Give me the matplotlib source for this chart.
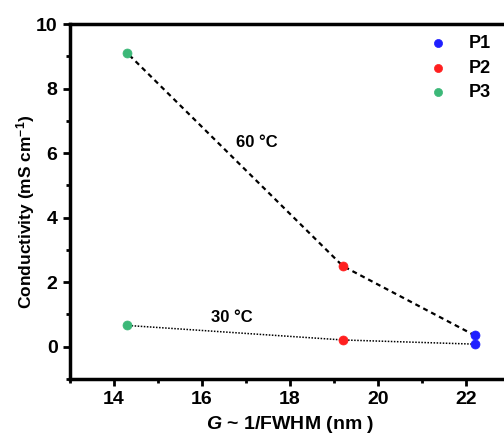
import matplotlib
matplotlib.use("Agg")
import matplotlib.pyplot as plt
from matplotlib.ticker import MultipleLocator

# G ~ 1/FWHM (nm) for each sample, and conductivity (mS/cm) at two temperatures
samples = ["P1", "P2", "P3"]
g_values = [22.2, 19.2, 14.3]
cond_60 = [0.35, 2.5, 9.1]
cond_30 = [0.08, 0.21, 0.66]
colors = ["#1f1fff", "#ff1f1f", "#3cb878"]

plt.rcParams['font.family'] = 'Liberation Sans'
plt.rcParams['font.weight'] = 'bold'
plt.rcParams['mathtext.fontset'] = 'custom'
plt.rcParams['mathtext.rm'] = 'Liberation Sans:bold'
plt.rcParams['mathtext.it'] = 'Liberation Sans:italic:bold'
plt.rcParams['mathtext.bf'] = 'Liberation Sans:bold'

fig = plt.figure(figsize=(5.04, 4.34), dpi=100)
# right spine sits just outside the picture, as in the original crop
ax = fig.add_axes([70/504, 1 - 379/434, 440/504, 355/434])

ax.plot(g_values, cond_60, color="black", ls=(0, (2.2, 1.8)), lw=1.6, zorder=1)
ax.plot(g_values, cond_30, color="black", ls=(0, (1, 1)), lw=1.1, zorder=1)

for name, x, y60, y30, c in zip(samples, g_values, cond_60, cond_30, colors):
    ax.scatter([x, x], [y60, y30], s=42, color=c, edgecolors=c, lw=0.5,
               zorder=3, label=name)

ax.text(17.25, 6.33, "60 °C", fontsize=12, fontweight='bold', ha='center', va='center')
ax.text(16.68, 0.9, "30 °C", fontsize=12, fontweight='bold', ha='center', va='center')

ax.set_xlim(13, 23)
ax.set_ylim(-1, 10)
ax.xaxis.set_major_locator(MultipleLocator(2))
ax.xaxis.set_minor_locator(MultipleLocator(1))
ax.yaxis.set_major_locator(MultipleLocator(2))
ax.yaxis.set_minor_locator(MultipleLocator(1))
ax.tick_params(which='major', direction='out', length=5, width=2, labelsize=14, pad=4)
ax.tick_params(which='minor', direction='out', length=3, width=2)
for s in ax.spines.values():
    s.set_linewidth(2.5)

ax.set_xlabel("$\\it{G}$ ~ 1/FWHM (nm )", fontsize=14, fontweight='bold', labelpad=4)
ax.set_ylabel("Conductivity (mS cm$^{-1}$)", fontsize=12.5, fontweight='bold')
ax.yaxis.set_label_coords(-0.075, 0.47)

leg = ax.legend(loc='upper left', bbox_to_anchor=(429/504, 1 - 35/434),
                bbox_transform=fig.transFigure, frameon=False, borderpad=0,
                borderaxespad=0, fontsize=13, handlelength=1, handletextpad=1.2,
                labelspacing=0.42, scatterpoints=1, markerscale=0.9)

fig.savefig("out.png", dpi=100)
